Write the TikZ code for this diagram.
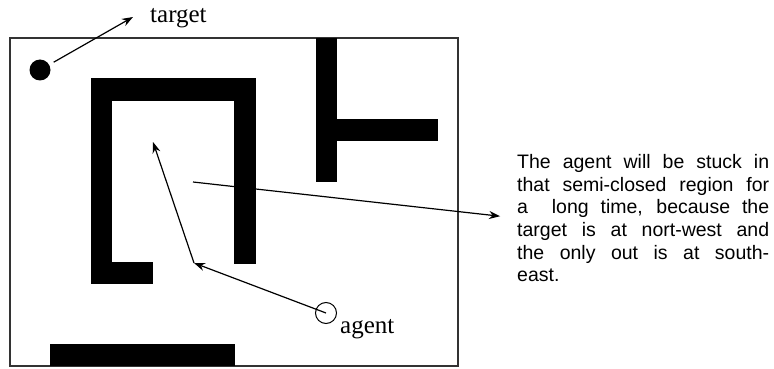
\documentclass[tikz,border=0pt]{standalone}
\usepackage{fontspec}
\setmainfont{Liberation Serif}
\newfontfamily\notefont{Liberation Sans}
\usetikzlibrary{arrows.meta, positioning}

\begin{document}
\begin{tikzpicture}[
    x=1pt, y=-1pt,
    wall/.style={fill=black, draw=none},
    arr/.style={-{Stealth[length=11pt, width=8pt]}, line width=1.2pt},
    lbl/.style={font=\fontsize{25}{25}\selectfont, inner sep=0pt, anchor=base west}
]
  \useasboundingbox (0,0) rectangle (774,369);

  % Frame
  \draw[line width=1.2pt, black!80] (10,38) rectangle (458,366);

  % Walls
  \fill[wall] (91,78) rectangle (256,101);
  \fill[wall] (91,78) rectangle (112,284);
  \fill[wall] (91,262) rectangle (153,284);
  \fill[wall] (234,78) rectangle (256,264);
  \fill[wall] (316,38) rectangle (337,182);
  \fill[wall] (316,119) rectangle (438,141);
  \fill[wall] (50,344) rectangle (235,366);

  % Target and agent
  \node[circle, fill=black, minimum size=21pt, inner sep=0pt] (dot) at (40,70) {};
  \node[lbl] (tlabel) at (150,23) {target};
  \node[circle, draw, line width=1pt, minimum size=21pt, inner sep=0pt] (agent) at (326,313) {};
  \node[lbl] (alabel) at (340,333) {agent};

  % Note
  \node[anchor=north west, inner sep=0pt, text width=252pt, align=justify,
        font=\notefont\fontsize{19.5}{22.7}\selectfont] (note) at (517,154)
    {The agent will be stuck in\linebreak
     that semi-closed region for\linebreak
     a \ long time, because the\linebreak
     target is at nort-west and\linebreak
     the only out is at south-\linebreak
     east.};

  % Arrows
  \coordinate (tpt) at (133,17);
  \coordinate (bend) at (194,263);
  \coordinate (goal) at (153,142);
  \coordinate (src) at (193,182);
  \draw[arr, shorten <=5pt] (dot) -- (tpt);
  \draw[arr] (agent.center) -- (bend);
  \draw[arr] (bend) -- (goal);
  \draw[arr, shorten >=17pt] (src) -- (note.west);
\end{tikzpicture}
\end{document}
